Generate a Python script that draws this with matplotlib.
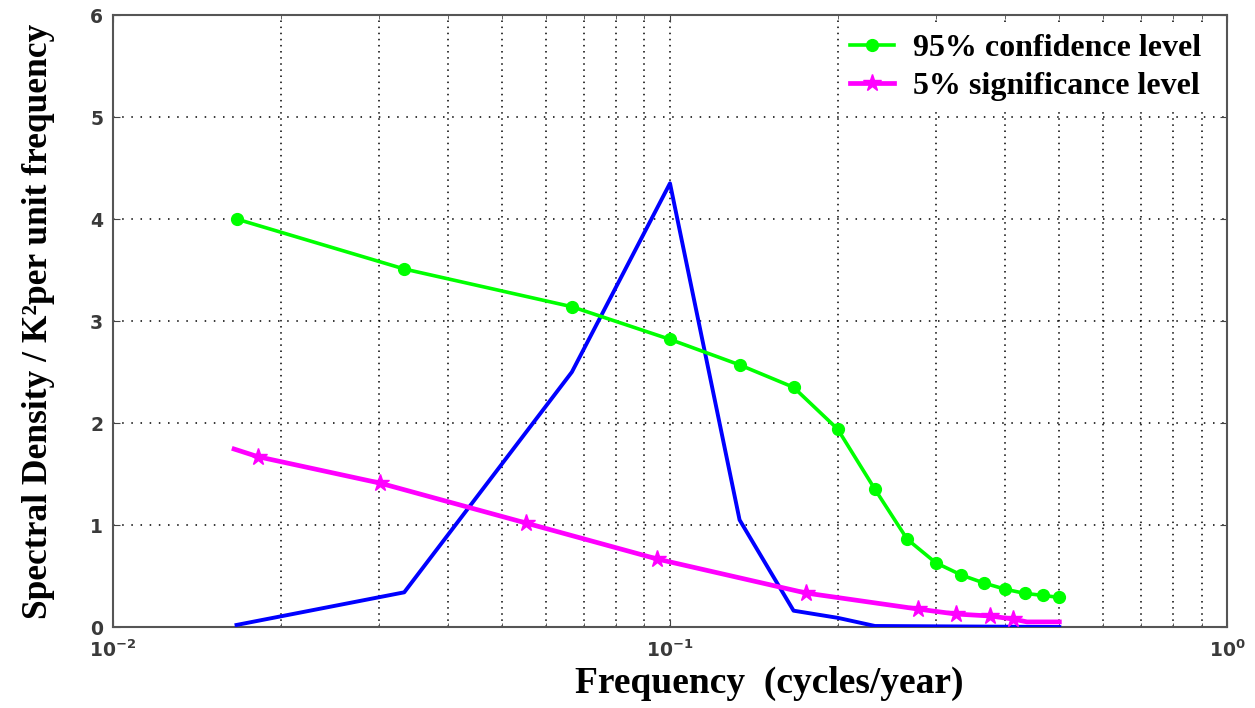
import matplotlib
matplotlib.use("Agg")
import matplotlib.pyplot as plt
import numpy as np

# frequencies (cycles/year) and spectral values
conf_freq = [1/60, 2/60, 4/60, 6/60, 8/60, 10/60, 12/60, 14/60, 16/60,
             18/60, 20/60, 22/60, 24/60, 26/60, 28/60, 30/60]
conf_val = [4.00, 3.51, 3.14, 2.82, 2.57, 2.35, 1.94, 1.35, 0.86,
            0.63, 0.51, 0.43, 0.37, 0.33, 0.31, 0.29]

sig_freq = [0.0165, 0.0182, 0.0302, 0.0551, 0.0948, 0.1755, 0.2788,
            0.3263, 0.3754, 0.413, 0.4375, 0.5]
sig_val = [1.745, 1.67, 1.41, 1.02, 0.667, 0.333, 0.176,
           0.127, 0.108, 0.078, 0.05, 0.05]
sig_marks = [1, 2, 3, 4, 5, 6, 7, 8, 9]

spec_freq = [1/60, 2/60, 4/60, 6/60, 8/60, 10/60, 12/60, 14/60, 30/60]
spec_val = [0.02, 0.34, 2.50, 4.35, 1.05, 0.16, 0.09, 0.01, 0.0]

plt.rcParams['font.family'] = ['Liberation Serif', 'DejaVu Serif']

fig = plt.figure(figsize=(12.55, 7.08), dpi=100)
ax = fig.add_axes([0.090, 0.1144, 0.8877, 0.8644])

ax.plot(spec_freq, spec_val, color='#0000ff', lw=2.8, zorder=3)
ax.plot(conf_freq, conf_val, color='#00ff00', lw=2.6, marker='o', ms=8.5,
        label='95% confidence level', zorder=4)
ax.plot(sig_freq, sig_val, color='#ff00ff', lw=3.4, marker='*', ms=13,
        markevery=sig_marks, label='5% significance level', zorder=4)

ax.set_xscale('log')
ax.set_xlim(1e-2, 1)
ax.set_ylim(0, 6)
ax.set_yticks(range(7))

ax.grid(True, which='both', axis='x', color='black', ls=(0, (1, 3)), lw=1.1)
ax.grid(True, which='major', axis='y', color='black', ls=(0, (1, 5)), lw=1.1)

ax.tick_params(which='both', direction='in', top=True, right=True,
               labelsize=13.5, labelcolor='#3a3a3a', color='#444444')
ax.tick_params(which='major', length=5)
ax.tick_params(which='minor', length=3)
ax.tick_params(axis='y', pad=7)
ax.tick_params(axis='x', pad=9)
for lab in ax.get_xticklabels() + ax.get_yticklabels():
    lab.set_family('DejaVu Sans')
    lab.set_weight('bold')
for sp in ax.spines.values():
    sp.set_color('#555555')
    sp.set_linewidth(1.5)

ax.set_xlabel('Frequency  (cycles/year)', fontsize=27, fontweight='bold')
ax.set_ylabel('Spectral Density / K\u00b2per unit frequency', fontsize=25.5,
              fontweight='bold')
ax.xaxis.set_label_coords(0.589, -0.064)
ax.yaxis.set_label_coords(-0.052, 0.5)

leg = ax.legend(loc='upper right', bbox_to_anchor=(0.998, 1.008), numpoints=1,
                handlelength=1.35, frameon=True, fancybox=False,
                prop={'weight': 'bold', 'size': 23}, labelspacing=0.25,
                borderpad=0.25, handletextpad=0.6)
leg.get_frame().set_edgecolor('white')
leg.get_frame().set_alpha(1)

fig.savefig('out.png', dpi=100, facecolor='white')
